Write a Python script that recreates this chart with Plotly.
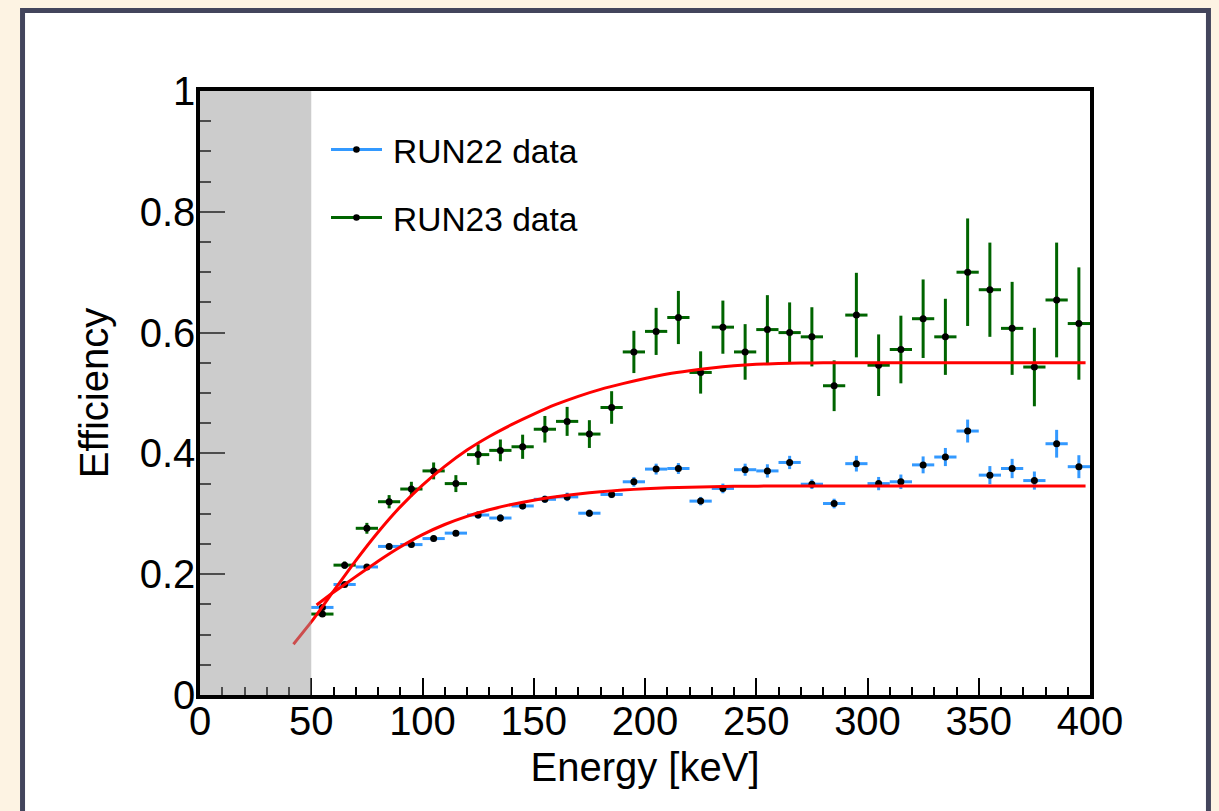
import plotly.graph_objects as go

# Energy bin centres [keV]; each bin is 10 keV wide
energy = [55, 65, 75, 85, 95, 105, 115, 125, 135, 145, 155, 165, 175, 185, 195,
          205, 215, 225, 235, 245, 255, 265, 275, 285, 295, 305, 315, 325, 335,
          345, 355, 365, 375, 385, 395]
bin_half_width = 5

run22_eff = [0.145, 0.183, 0.212, 0.246, 0.249, 0.259, 0.268, 0.298, 0.293, 0.313,
             0.324, 0.328, 0.301, 0.332, 0.353, 0.374, 0.375, 0.321, 0.342, 0.373,
             0.371, 0.385, 0.349, 0.317, 0.383, 0.350, 0.353, 0.381, 0.394, 0.437,
             0.364, 0.375, 0.355, 0.416, 0.378]
run22_err = [0.004, 0.004, 0.004, 0.005, 0.005, 0.005, 0.005, 0.006, 0.006, 0.006,
             0.006, 0.007, 0.006, 0.006, 0.008, 0.009, 0.009, 0.007, 0.008, 0.010,
             0.011, 0.011, 0.008, 0.008, 0.013, 0.011, 0.012, 0.014, 0.015, 0.019,
             0.015, 0.016, 0.015, 0.023, 0.019]

run23_eff = [0.134, 0.215, 0.276, 0.320, 0.341, 0.371, 0.350, 0.398, 0.405, 0.411,
             0.440, 0.453, 0.432, 0.476, 0.568, 0.602, 0.625, 0.534, 0.609, 0.568,
             0.605, 0.600, 0.593, 0.512, 0.629, 0.546, 0.572, 0.623, 0.593, 0.700,
             0.671, 0.607, 0.543, 0.654, 0.615]
run23_err = [0.004, 0.006, 0.009, 0.011, 0.012, 0.014, 0.014, 0.017, 0.018, 0.020,
             0.022, 0.024, 0.023, 0.027, 0.035, 0.039, 0.044, 0.035, 0.044, 0.046,
             0.057, 0.050, 0.049, 0.042, 0.070, 0.051, 0.056, 0.065, 0.063, 0.089,
             0.078, 0.077, 0.065, 0.095, 0.093]

# Fitted efficiency curves, sampled along the energy axis
fit22_energy = [52.4, 60, 70, 80, 90, 100, 110, 120, 130, 140, 150, 160, 170, 180,
                190, 200, 210, 220, 230, 240, 260, 398]
fit22_eff = [0.149, 0.170, 0.196, 0.2215, 0.245, 0.2655, 0.2823, 0.2958, 0.3066,
             0.3154, 0.3226, 0.3284, 0.3329, 0.3365, 0.3393, 0.3415, 0.3430, 0.3440,
             0.3449, 0.3455, 0.3460, 0.3460]

fit23_energy = [42, 50, 60, 70, 80, 90, 100, 110, 120, 130, 140, 150, 160, 170, 180,
                190, 200, 210, 220, 230, 240, 250, 260, 270, 280, 398]
fit23_eff = [0.084, 0.121, 0.172, 0.2225, 0.2695, 0.3115, 0.3475, 0.3785, 0.4055,
             0.428, 0.4475, 0.465, 0.481, 0.4945, 0.506, 0.5155, 0.524, 0.5315,
             0.537, 0.5415, 0.545, 0.5475, 0.5488, 0.5496, 0.5500, 0.5500]

series_names = ["RUN22 data", "RUN23 data"]
threshold_keV = 50

BLUE = "#3399FF"
GREEN = "#006400"
RED = "#FF0000"
FONT = "Liberation Sans"

fig = go.Figure()

for eff, err, col in [(run22_eff, run22_err, BLUE), (run23_eff, run23_err, GREEN)]:
    fig.add_trace(go.Scatter(
        x=energy, y=eff, mode="markers",
        marker=dict(color="black", size=7),
        error_x=dict(type="constant", value=bin_half_width, color=col, thickness=3, width=0),
        error_y=dict(type="data", array=err, color=col, thickness=3, width=0),
        showlegend=False,
    ))

for fx, fy in [(fit22_energy, fit22_eff), (fit23_energy, fit23_eff)]:
    fig.add_trace(go.Scatter(
        x=fx, y=fy, mode="lines",
        line=dict(color=RED, width=3, shape="spline", smoothing=0.5),
        showlegend=False,
    ))

# Outer frame of the canvas
fig.add_shape(type="rect", xref="paper", yref="paper",
              x0=-0.1994, x1=1.1331, y0=-0.25, y1=1.1333,
              line=dict(color="#43455C", width=5), fillcolor="white", layer="below")

# Shaded region below the analysis threshold
fig.add_shape(type="rect", xref="x", yref="y",
              x0=0, x1=threshold_keV, y0=0, y1=1,
              fillcolor="rgb(153,153,153)", opacity=0.5, line=dict(width=0), layer="above")

# Legend entries
legend_rows = [(0.9031, 0.8995, BLUE), (0.7906, 0.7880, GREEN)]
for name, (ly, ty, col) in zip(series_names, legend_rows):
    fig.add_shape(type="line", xref="paper", yref="paper",
                  x0=0.1472, x1=0.2045, y0=ly, y1=ly,
                  line=dict(color=col, width=3))
    fig.add_shape(type="circle", xref="paper", yref="paper",
                  xsizemode="pixel", ysizemode="pixel",
                  xanchor=0.1758, yanchor=ly, x0=-3.3, x1=3.3, y0=-3.3, y1=3.3,
                  fillcolor="black", line=dict(width=0))
    fig.add_annotation(x=0.2146, y=ty, xref="paper", yref="paper",
                       text=name, showarrow=False, xanchor="left", yanchor="middle",
                       font=dict(family=FONT, size=33.5, color="black"))

fig.update_xaxes(
    range=[0, 400], showline=True, linecolor="black", linewidth=3.5, mirror=True,
    ticks="inside", ticklen=17, tickwidth=1.5, tickcolor="black", dtick=50, tick0=0,
    minor=dict(ticks="inside", dtick=10, ticklen=8, tickwidth=1.5, tickcolor="black"),
    showgrid=False, zeroline=False, ticklabelstandoff=-12,
    tickfont=dict(family=FONT, size=40, color="black"),
    title=dict(text="Energy [keV]", font=dict(family=FONT, size=40, color="black"), standoff=12),
)
fig.update_yaxes(
    range=[0, 1], showline=True, linecolor="black", linewidth=3.5, mirror=True,
    ticks="inside", ticklen=25, tickwidth=1.5, tickcolor="black", dtick=0.2, tick0=0,
    tickformat="~g",
    minor=dict(ticks="inside", dtick=0.05, ticklen=11, tickwidth=1.5, tickcolor="black"),
    showgrid=False, zeroline=False, ticklabelstandoff=-7,
    tickfont=dict(family=FONT, size=40, color="black"),
    title=dict(text="Efficiency", font=dict(family=FONT, size=40, color="black"), standoff=20),
)

fig.update_layout(
    width=1219, height=811,
    margin=dict(l=200, r=129, t=91, b=116, pad=0),
    paper_bgcolor="#FDF3E3", plot_bgcolor="white",
    font=dict(family=FONT),
)

fig.write_html("out.html")
